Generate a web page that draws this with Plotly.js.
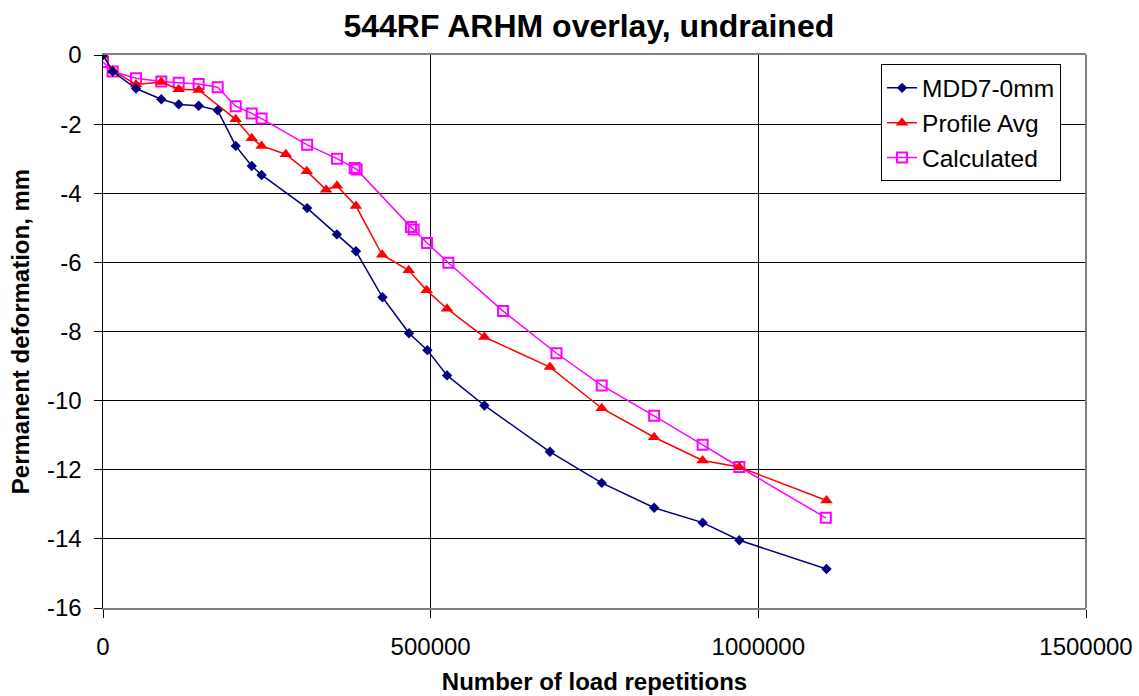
<!DOCTYPE html>
<html>
<head>
<meta charset="utf-8">
<script src="https://cdn.plot.ly/plotly-3.0.1.min.js"></script>
<style>html,body{margin:0;padding:0;background:#fff;}#chart{width:1139px;height:696px;}</style>
</head>
<body>
<div id="chart"></div>
<script>
var mddX = [0, 14800, 50400, 89000, 115500, 146000, 175000, 202500, 227000, 242000, 311500, 357000, 386000, 426500, 467000, 495000, 525000, 582000, 682000, 761000, 841000, 915000, 971000, 1104000];
var mddY = [0, -0.48, -0.97, -1.28, -1.43, -1.47, -1.6, -2.63, -3.21, -3.47, -4.43, -5.19, -5.68, -7.01, -8.05, -8.54, -9.27, -10.14, -11.48, -12.38, -13.1, -13.53, -14.04, -14.87];

var profX = [0, 14800, 50400, 89000, 115500, 146000, 202500, 227000, 242000, 279000, 311000, 340500, 357000, 386000, 426000, 466500, 494000, 525000, 582000, 682000, 761000, 841000, 915000, 971000, 1104000];
var profY = [0, -0.45, -0.85, -0.78, -0.99, -1.01, -1.86, -2.41, -2.63, -2.87, -3.36, -3.9, -3.78, -4.37, -5.78, -6.23, -6.81, -7.34, -8.16, -9.03, -10.22, -11.06, -11.73, -11.92, -12.89];

var calcX = [0, 14800, 50400, 89000, 115500, 146000, 175000, 202500, 227000, 242000, 311500, 357000, 384000, 387000, 470000, 474000, 494500, 527000, 610500, 692000, 761000, 841000, 915000, 971000, 1103000];
var calcY = [-0.2, -0.48, -0.67, -0.77, -0.8, -0.84, -0.93, -1.48, -1.69, -1.84, -2.6, -3.0, -3.27, -3.31, -4.98, -5.05, -5.44, -6.01, -7.41, -8.63, -9.56, -10.44, -11.28, -11.92, -13.39];

var seriesNames = ["MDD7-0mm", "Profile Avg", "Calculated"];
var xTicks = [0, 500000, 1000000, 1500000];
var xTickText = ["0", "500000", "1000000", "1500000"];
var yTicks = [0, -2, -4, -6, -8, -10, -12, -14, -16];
var yTickText = ["0", "-2", "-4", "-6", "-8", "-10", "-12", "-14", "-16"];

var F = "'Liberation Sans', Arial, sans-serif";

var traces = [
  {x: calcX, y: calcY, name: seriesNames[2], mode: "lines+markers", type: "scatter",
   line: {color: "#FF00FF", width: 1.5},
   marker: {symbol: "square-open", size: 10, color: "#FF00FF", line: {width: 2, color: "#FF00FF"}}},
  {x: profX, y: profY, name: seriesNames[1], mode: "lines+markers", type: "scatter",
   line: {color: "#FF0000", width: 1.5},
   marker: {symbol: "triangle-up", size: 11, color: "#FF0000"}},
  {x: mddX, y: mddY, name: seriesNames[0], mode: "lines+markers", type: "scatter",
   line: {color: "#000080", width: 1.5},
   marker: {symbol: "diamond", size: 8, color: "#000080"}}
];

var layout = {
  width: 1139, height: 696,
  margin: {l: 103, r: 53, t: 55, b: 88},
  paper_bgcolor: "#fff", plot_bgcolor: "#fff",
  font: {family: F, color: "#000"},
  title: {text: "<b>544RF ARHM overlay, undrained</b>", font: {family: F, size: 32, color: "#000"},
          xref: "container", x: 0.517, xanchor: "center", yref: "container", y: 0.963, yanchor: "middle"},
  showlegend: true,
  legend: {x: 0.7915, y: 0.983, xanchor: "left", yanchor: "top", traceorder: "reversed",
           bgcolor: "#fff", bordercolor: "#000", borderwidth: 1,
           font: {family: F, size: 24.5, color: "#000"}, tracegroupgap: 0},
  xaxis: {
    range: [0, 1500000], tickvals: xTicks, ticktext: xTickText,
    showgrid: true, gridcolor: "#000", gridwidth: 1, zeroline: false,
    showline: true, linecolor: "#808080", linewidth: 2, mirror: true,
    ticks: "outside", ticklen: 8, tickcolor: "#000", ticklabelstandoff: 8,
    tickfont: {family: F, size: 24, color: "#000"},
    title: {text: "<b>Number of load repetitions</b>", font: {family: F, size: 24, color: "#000"}, standoff: 14}
  },
  yaxis: {
    range: [-16, 0], tickvals: yTicks, ticktext: yTickText,
    showgrid: true, gridcolor: "#000", gridwidth: 1, zeroline: false,
    showline: true, linecolor: "#000", linewidth: 1.5,
    ticks: "outside", ticklen: 8, tickcolor: "#000", ticklabelstandoff: 7,
    tickfont: {family: F, size: 24, color: "#000"},
    title: {text: "<b>Permanent deformation, mm</b>", font: {family: F, size: 24, color: "#000"}, standoff: 10}
  },
  shapes: [
    {type: "line", xref: "paper", yref: "paper", x0: 1, x1: 1, y0: 0, y1: 1, line: {color: "#808080", width: 2}}
  ]
};

Plotly.newPlot("chart", traces, layout, {displayModeBar: false, staticPlot: true});
</script>
</body>
</html>
